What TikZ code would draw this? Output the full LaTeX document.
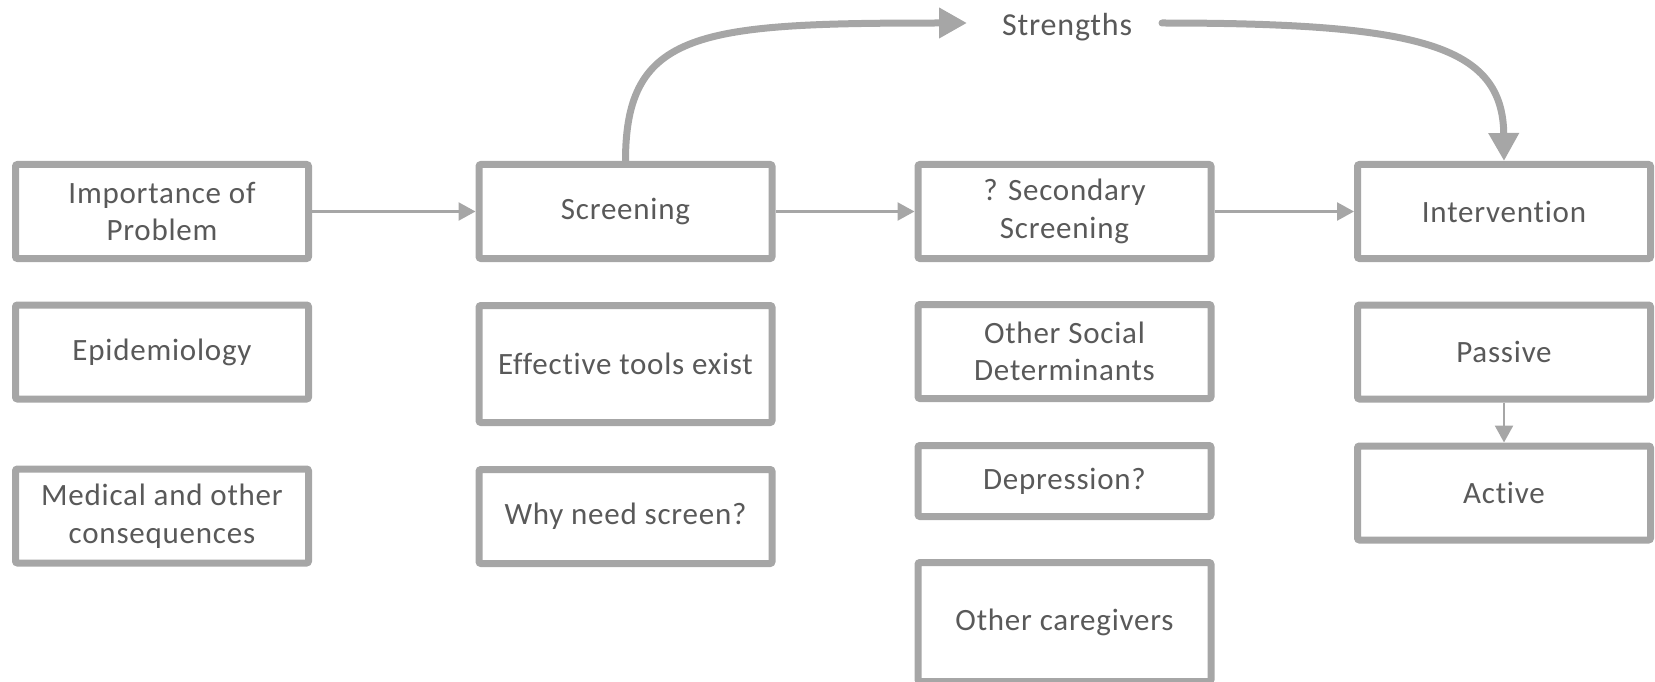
\documentclass[tikz,border=0pt]{standalone}
\usepackage{fontspec}
\setmainfont{Carlito}[LetterSpace=2.5, Ligatures=NoCommon]
\usetikzlibrary{arrows.meta}
\definecolor{linegray}{HTML}{A6A6A6}
\definecolor{textgray}{HTML}{595959}
\begin{document}
\begin{tikzpicture}[x=1pt,y=-1pt,
  box/.style={draw=linegray, line width=7pt, rounded corners=2pt, fill=white,
    text=textgray, align=center, minimum width=293pt, minimum height=94pt,
    inner sep=0pt, font=\fontsize{31}{37.5}\selectfont},
  thin/.style={draw=linegray, line width=2.5pt, -{Triangle[length=17pt,width=18pt]}},
  thick/.style={draw=linegray, line width=7pt, line cap=round, -{Triangle[length=28pt,width=29pt]}},
  lbl/.style={text=textgray, inner sep=0pt, font=\fontsize{32}{38}\selectfont}]
\useasboundingbox (0,0) rectangle (1655,682);
\clip (0,0) rectangle (1655,682);
% column 1
\node[box] (imp) at (162,211.5) {Importance of\\Problem};
\node[box] (epi) at (162,352) {Epidemiology};
\node[box] (med) at (162,516) {Medical and other\\consequences};
% column 2
\node[box] (scr) at (625.5,211.5) {Screening};
\node[box, minimum height=117pt] (eff) at (625.5,364) {Effective tools exist};
\node[box] (why) at (625.5,516.5) {Why need screen?};
% column 3
\node[box] (sec) at (1064.5,211.5) {? Secondary\\Screening};
\node[box] (soc) at (1064.5,351.5) {Other Social\\Determinants};
\node[box, minimum height=71pt] (dep) at (1064.5,481) {Depression?};
\node[box, minimum height=119pt] (care) at (1064.5,622) {Other caregivers};
% column 4
\node[box] (int) at (1504,211.5) {Intervention};
\node[box] (pas) at (1504,352) {Passive};
\node[box] (act) at (1504,493) {Active};
% strengths label
\node[lbl, anchor=base west] (str) at (1002,36) {Strengths};
\coordinate (sin) at (967,23);
\coordinate (sout) at (1162,23);
% thin arrows
\draw[thin] (imp.east) -- (scr.west);
\draw[thin] (scr.east) -- (sec.west);
\draw[thin] (sec.east) -- (int.west);
\draw[thin] (pas.south) -- (act.north);
% thick curved arrows
\draw[thick] (scr.north) .. controls (625.5,30) and (700,23) .. (sin);
\draw[thick] (sout) .. controls (1420,23) and (1503,45) .. (int.north);
\end{tikzpicture}
\end{document}
